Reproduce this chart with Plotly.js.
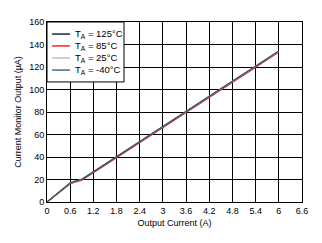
<!DOCTYPE html>
<html><head><meta charset="utf-8">
<script src="https://cdn.plot.ly/plotly-3.0.1.min.js"></script>
<style>html,body{margin:0;padding:0;background:#fff}</style>
</head><body><div id="c" style="width:322px;height:243px"></div>
<script>
const current = [0, 0.3, 0.6, 0.75, 0.9, 1.2, 1.8, 2.4, 3.0, 3.6, 4.2, 4.8, 5.4, 6.0];
const out125 = [0, 8.4, 16.8, 18.6, 20.0, 26.7, 40.0, 53.4, 66.9, 80.4, 93.8, 107.2, 120.6, 134.0];
const out85  = [0, 7.8, 16.2, 18.0, 19.4, 26.1, 39.4, 52.7, 66.2, 79.7, 93.1, 106.5, 119.9, 133.3];
const out25  = [0, 8.4, 16.8, 18.6, 20.0, 26.7, 40.0, 53.4, 66.9, 80.4, 93.8, 107.2, 120.6, 134.0];
const outM40 = [0, 8.5, 16.9, 18.7, 20.1, 26.8, 40.1, 53.5, 67.0, 80.5, 93.9, 107.3, 120.7, 134.2];
const seriesNames = ["T<sub>A</sub> = 125°C", "T<sub>A</sub> = 85°C", "T<sub>A</sub> = 25°C", "T<sub>A</sub> = -40°C"];
const xTicks = [0, 0.6, 1.2, 1.8, 2.4, 3, 3.6, 4.2, 4.8, 5.4, 6, 6.6];
const xTickText = ["0", "0.6", "1.2", "1.8", "2.4", "3", "3.6", "4.2", "4.8", "5.4", "6", "6.6"];
const yTicks = [0, 20, 40, 60, 80, 100, 120, 140, 160];

const colors = ["#000000", "#ff0000", "#b4b4b4", "#2a5a6e"];
const ys = [out125, out85, out25, outM40];
const traces = ys.map((y, i) => ({
  x: current, y: y, type: "scatter", mode: "lines", name: seriesNames[i],
  line: {color: colors[i], width: 1.3}
}));

const font = {family: "Liberation Sans, Arial, sans-serif", size: 9, color: "#000"};

// Compact legend (Plotly's built-in legend rows are too tall for this chart)
const shapes = [{type: "rect", xref: "paper", yref: "paper", x0: 0, x1: 0.302, y0: 0.667, y1: 1,
  fillcolor: "#fff", line: {color: "#000", width: 1}, layer: "above"}];
const annotations = [];
const rowY = [0.933, 0.867, 0.8, 0.733];
seriesNames.forEach((n, i) => {
  shapes.push({type: "line", xref: "paper", yref: "paper", x0: 0.02, x1: 0.09, y0: rowY[i], y1: rowY[i],
    line: {color: colors[i], width: 1.3}, layer: "above"});
  annotations.push({xref: "paper", yref: "paper", x: 0.1, y: rowY[i], xanchor: "left", yanchor: "middle",
    text: n, showarrow: false, font: {family: font.family, size: 9.5, color: "#000"}});
});

const layout = {
  width: 322, height: 243,
  margin: {l: 47, r: 20, t: 22, b: 41},
  paper_bgcolor: "#fff", plot_bgcolor: "#fff",
  font: font,
  showlegend: false,
  shapes: shapes,
  annotations: annotations,
  xaxis: {range: [0, 6.6], tickvals: xTicks, ticktext: xTickText, showgrid: true,
    gridcolor: "#000", gridwidth: 1, zeroline: false, showline: true, linecolor: "#000",
    linewidth: 1, mirror: true, ticks: "", tickfont: font,
    title: {text: "Output Current (A)", font: font, standoff: 4}},
  yaxis: {range: [0, 160], tickvals: yTicks, showgrid: true, gridcolor: "#000",
    gridwidth: 1, zeroline: false, showline: true, linecolor: "#000", linewidth: 1,
    mirror: true, ticks: "", tickfont: font,
    title: {text: "Current Monitor Output (µA)", font: font, standoff: 6}}
};
Plotly.newPlot("c", traces, layout, {displayModeBar: false, staticPlot: true});
</script></body></html>
